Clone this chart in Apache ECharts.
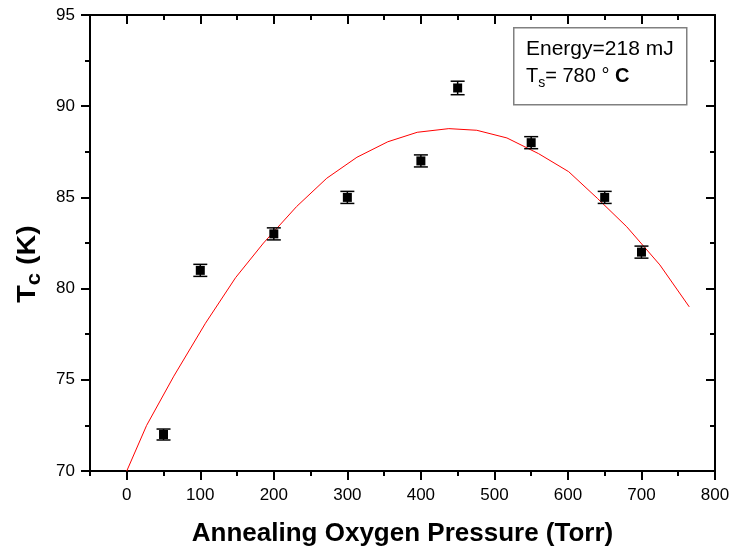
<!DOCTYPE html>
<html><head><meta charset="utf-8">
<script src="https://cdn.jsdelivr.net/npm/echarts@6/dist/echarts.min.js"></script>
<style>html,body{margin:0;padding:0;background:#fff}#c{width:730px;height:546px}</style>
</head><body><div id="c"></div>
<script>
// Data
var pressure = [50, 100, 200, 300, 400, 450, 550, 650, 700];
var tc = [72, 81, 83, 85, 87, 91, 88, 85, 82];
var tcErr = [0.3, 0.33, 0.33, 0.33, 0.33, 0.37, 0.33, 0.33, 0.33];
var fitX = [0, 27, 64, 107, 148, 186, 231, 272, 313, 355, 395, 438, 476, 517, 560, 601, 640, 680, 725, 765];
var fitY = [70.0, 72.5, 75.2, 78.1, 80.6, 82.5, 84.5, 86.05, 87.2, 88.05, 88.57, 88.77, 88.68, 88.26, 87.4, 86.41, 84.95, 83.39, 81.3, 79.0];
var xMajor = [0, 100, 200, 300, 400, 500, 600, 700, 800];
var xMinor = [-50, 50, 150, 250, 350, 450, 550, 650, 750];
var xRange = [-50, 800];
var yRange = [70, 95];

var FONT = "'Liberation Sans', Arial, sans-serif";
var chart = echarts.init(document.getElementById('c'), null, {renderer: 'canvas'});

function xAx(pos, ticks, len, inside, showLine, showLabel) {
  return {
    type: 'value', position: pos, min: xRange[0], max: xRange[1],
    axisLine: {show: showLine, onZero: false, lineStyle: {color: '#000', width: 2}},
    axisTick: {show: true, customValues: ticks, inside: inside, length: len, lineStyle: {color: '#000', width: 2}},
    axisLabel: showLabel ? {show: true, customValues: xMajor, color: '#000', fontSize: 17, fontFamily: FONT, margin: 16} : {show: false},
    splitLine: {show: false}
  };
}
function yAx(pos, inside, showLabel) {
  return {
    type: 'value', position: pos, min: yRange[0], max: yRange[1], interval: 5,
    axisLine: {show: true, onZero: false, lineStyle: {color: '#000', width: 2}},
    axisTick: {show: true, inside: inside, length: 9, lineStyle: {color: '#000', width: 2}},
    minorTick: {show: true, splitNumber: 2, length: 5, lineStyle: {color: '#000', width: 2}},
    axisLabel: showLabel ? {show: true, color: '#000', fontSize: 17, fontFamily: FONT, margin: 15} : {show: false},
    splitLine: {show: false}
  };
}

var xa0 = xAx('bottom', xMajor, 9, false, true, true);
xa0.name = 'Annealing Oxygen Pressure (Torr)';
xa0.nameLocation = 'middle';
xa0.nameGap = 50;
xa0.nameTextStyle = {fontSize: 26, fontWeight: 'bold', fontFamily: FONT, color: '#000'};

var option = {
  animation: false,
  backgroundColor: '#fff',
  grid: {left: 90, right: 15, top: 15, bottom: 75, containLabel: false, outerBoundsMode: 'none'},
  xAxis: [
    xa0,
    xAx('bottom', xMinor, 5, false, false, false),
    xAx('top', xMajor, 9, true, true, false),
    xAx('top', xMinor, 5, true, false, false)
  ],
  yAxis: [yAx('left', false, true), yAx('right', true, false)],
  graphic: [
    {type: 'text', x: 28, y: 264, rotation: Math.PI / 2, scaleX: 1.1, z: 101,
     style: {
       text: '{b|T}{s|c}{b| (K)}', align: 'center', verticalAlign: 'middle',
       rich: {
         b: {fontSize: 26, fontWeight: 'bold', fontFamily: FONT, fill: '#000', verticalAlign: 'middle'},
         s: {fontSize: 20, fontWeight: 'bold', fontFamily: FONT, fill: '#000', verticalAlign: 'middle', padding: [12, 0, 0, 0]}
       }
     }},
    {type: 'rect', left: 513, top: 27, shape: {width: 173, height: 77},
     style: {fill: '#fff', stroke: '#808080', lineWidth: 1.5}, z: 100},
    {type: 'text', left: 526, top: 39, z: 101,
     style: {text: 'Energy=218 mJ', fontSize: 21, fontFamily: FONT, fill: '#000'}},
    {type: 'text', left: 526, top: 66, z: 101,
     style: {
       text: '{n|T}{s|s}{n|= 780 ° }{c|C}',
       rich: {
         n: {fontSize: 20, fontFamily: FONT, fill: '#000', verticalAlign: 'middle'},
         s: {fontSize: 14, fontFamily: FONT, fill: '#000', verticalAlign: 'middle', padding: [15, 0, 0, 0]},
         c: {fontSize: 20, fontFamily: FONT, fontWeight: 'bold', fill: '#000', verticalAlign: 'middle'}
       }
     }}
  ],
  series: [
    {
      type: 'line', xAxisIndex: 0, yAxisIndex: 0,
      data: fitX.map(function (x, i) { return [x, fitY[i]]; }),
      showSymbol: false, symbol: 'none', smooth: false,
      lineStyle: {color: '#ff0000', width: 1}, z: 2
    },
    {
      type: 'custom', xAxisIndex: 0, yAxisIndex: 0,
      data: pressure.map(function (x, i) { return [x, tc[i] - tcErr[i], tc[i] + tcErr[i]]; }),
      renderItem: function (params, api) {
        var lo = api.coord([api.value(0), api.value(1)]);
        var hi = api.coord([api.value(0), api.value(2)]);
        var hw = 7;
        var st = {stroke: '#000', lineWidth: 1.5};
        return {type: 'group', children: [
          {type: 'line', shape: {x1: lo[0], y1: lo[1], x2: hi[0], y2: hi[1]}, style: st},
          {type: 'line', shape: {x1: lo[0] - hw, y1: lo[1], x2: lo[0] + hw, y2: lo[1]}, style: st},
          {type: 'line', shape: {x1: hi[0] - hw, y1: hi[1], x2: hi[0] + hw, y2: hi[1]}, style: st}
        ]};
      },
      encode: {x: 0, y: [1, 2]}, z: 3
    },
    {
      type: 'scatter', xAxisIndex: 0, yAxisIndex: 0,
      data: pressure.map(function (x, i) { return [x, tc[i]]; }),
      symbol: 'rect', symbolSize: 9,
      itemStyle: {color: '#000', opacity: 1}, z: 4
    }
  ]
};
chart.setOption(option);
</script>
</body></html>
